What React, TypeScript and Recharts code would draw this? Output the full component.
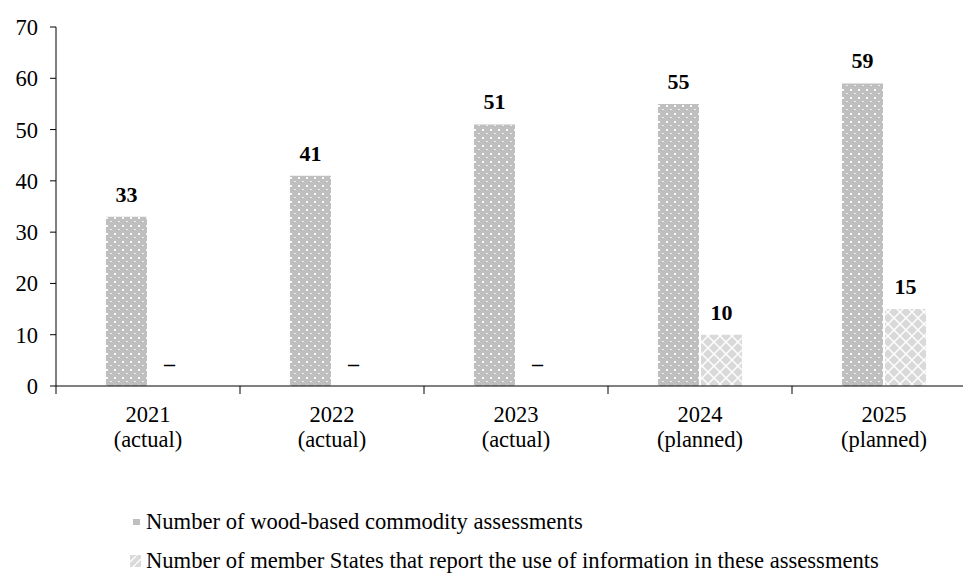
import React from "react"
import { BarChart, Bar, XAxis, YAxis, LabelList, Legend } from "recharts"

// Chart data
const categories = ["2021", "2022", "2023", "2024", "2025"]
const periods = ["(actual)", "(actual)", "(actual)", "(planned)", "(planned)"]
const assessments = [33, 41, 51, 55, 59]
const memberStates = [0, 0, 0, 10, 15]
const yTicks = [0, 10, 20, 30, 40, 50, 60, 70]

const seriesNames = [
  "Number of wood-based commodity assessments",
  "Number of member States that report the use of information in these assessments",
]

const data = categories.map((year, i) => ({
  year,
  assessments: assessments[i],
  memberStates: memberStates[i],
}))

const FONT = '"Liberation Serif", "Times New Roman", serif'
const CHART_W = 990
const MARGIN = { top: 27, right: 14, left: 0, bottom: 128 }
const Y_AXIS_W = 56
const BAND = (CHART_W - MARGIN.left - MARGIN.right - Y_AXIS_W) / categories.length

const CategoryTick = (props: any) => {
  const { x, y, payload, index } = props
  const edge = x - BAND / 2
  return (
    <g>
      <line x1={edge} y1={y} x2={edge} y2={y + 8} stroke="#000" strokeWidth={1} />
      <text x={x} y={y + 36} textAnchor="middle" fill="#000" fontSize={22.5} fontFamily={FONT}>
        <tspan x={x}>{payload.value}</tspan>
        <tspan x={x} dy={25}>
          {periods[index]}
        </tspan>
      </text>
    </g>
  )
}

// value label; zero values are shown as a dash
const ValueLabel = (props: any) => {
  const { x, y, width, value } = props
  if (x == null || y == null) return null
  return (
    <text
      x={Number(x) + Number(width) / 2}
      y={Number(y) - 15}
      textAnchor="middle"
      fill="#000"
      fontSize={22}
      fontWeight="bold"
      fontFamily={FONT}
    >
      {Number(value) === 0 ? "\u2013" : value}
    </text>
  )
}

const LegendContent = () => (
  <div style={{ fontFamily: FONT, fontSize: 22.6, color: "#000", position: "relative", height: 62 }}>
    <div style={{ position: "absolute", left: 0, top: 0, height: 26, display: "flex", alignItems: "center" }}>
      <svg width={146} height={26}>
        <rect x={133} y={10} width={7} height={6} fill="#bfbfbf" />
      </svg>
      <span style={{ lineHeight: "26px", whiteSpace: "nowrap" }}>{seriesNames[0]}</span>
    </div>
    <div style={{ position: "absolute", left: 0, top: 39, height: 26, display: "flex", alignItems: "center" }}>
      <svg width={146} height={26}>
        <rect x={130} y={7} width={11} height={12} fill="url(#legendCross)" />
        <defs>
          <pattern id="legendCross" patternUnits="userSpaceOnUse" width={8} height={8}>
            <rect width={8} height={8} fill="#dadada" />
            <path d="M0,8 L8,0" stroke="#fff" strokeWidth={1.3} />
          </pattern>
        </defs>
      </svg>
      <span style={{ lineHeight: "26px", whiteSpace: "nowrap" }}>{seriesNames[1]}</span>
    </div>
  </div>
)

export default function App() {
  return (
    <div
      style={{
        position: "absolute",
        left: 0,
        top: 0,
        width: 963,
        height: 574,
        overflow: "hidden",
        background: "#fff",
        fontFamily: FONT,
      }}
    >
      <BarChart width={CHART_W} height={574} data={data} margin={MARGIN} barGap={2} barSize={41}>
        <defs>
          <pattern id="dots" patternUnits="userSpaceOnUse" width={8} height={8}>
            <rect width={8} height={8} fill="#bfbfbf" />
            <rect x={2} y={1} width={2} height={2} fill="#ffffff" opacity={0.9} />
            <rect x={6} y={5} width={2} height={1} fill="#ffffff" opacity={0.7} />
          </pattern>
          <pattern id="cross" patternUnits="userSpaceOnUse" width={12} height={12}>
            <rect width={12} height={12} fill="#d9d9d9" />
            <path d="M0,0 L12,12 M12,0 L0,12" stroke="#ffffff" strokeWidth={1.4} />
          </pattern>
        </defs>
        <XAxis
          dataKey="year"
          height={60}
          tickLine={false}
          tickSize={0}
          tickMargin={0}
          axisLine={{ stroke: "#000", strokeWidth: 1 }}
          tick={<CategoryTick />}
          interval={0}
        />
        <YAxis
          width={Y_AXIS_W}
          domain={[0, 70]}
          ticks={yTicks}
          tickSize={6}
          tickMargin={12}
          axisLine={{ stroke: "#000", strokeWidth: 1 }}
          tickLine={{ stroke: "#000" }}
          tick={{ fill: "#000", fontSize: 22.5, fontFamily: FONT }}
        />
        <Legend
          layout="vertical"
          align="center"
          verticalAlign="middle"
          wrapperStyle={{ position: "absolute", left: 0, top: 509, width: 963, height: 62 }}
          content={<LegendContent />}
        />
        <Bar dataKey="assessments" name={seriesNames[0]} fill="url(#dots)" isAnimationActive={false}>
          <LabelList dataKey="assessments" content={<ValueLabel />} />
        </Bar>
        <Bar
          dataKey="memberStates"
          name={seriesNames[1]}
          fill="url(#cross)"
          minPointSize={(v: any) => (Number(v) === 0 ? 0.01 : 0)}
          isAnimationActive={false}
        >
          <LabelList dataKey="memberStates" content={<ValueLabel />} />
        </Bar>
      </BarChart>
    </div>
  )
}
